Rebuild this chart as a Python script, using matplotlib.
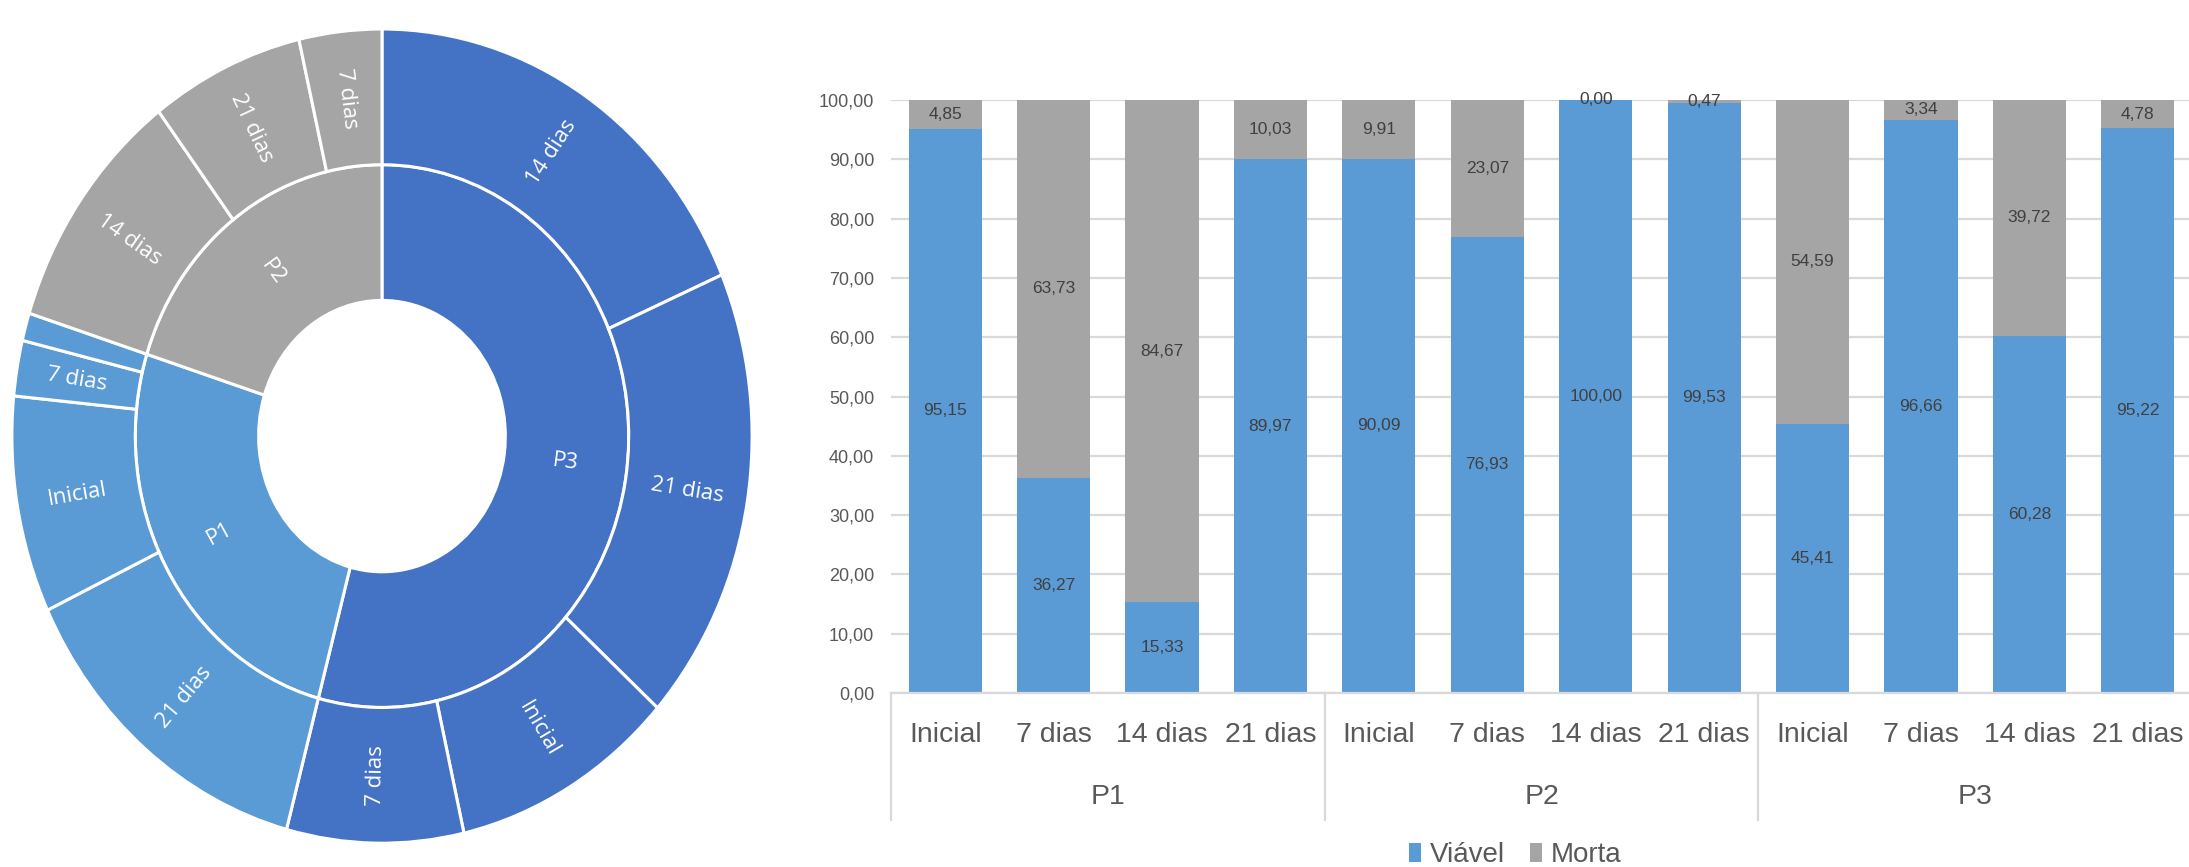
import matplotlib.pyplot as plt
import numpy as np
from matplotlib.patches import Patch
import matplotlib.transforms as mtransforms

plt.rcParams['font.family'] = ['Liberation Sans', 'DejaVu Sans']

# --- Dados do grafico de barras (% de celulas) ---
tempos = ['Inicial', '7 dias', '14 dias', '21 dias']
grupos = ['P1', 'P2', 'P3']
viavel = [95.15, 36.27, 15.33, 89.97, 90.09, 76.93, 100.00, 99.53, 45.41, 96.66, 60.28, 95.22]
morta = [4.85, 63.73, 84.67, 10.03, 9.91, 23.07, 0.00, 0.47, 54.59, 3.34, 39.72, 4.78]

# --- Dados do sunburst (ordem do Excel: horario a partir do topo) ---
sb_grupos = ['P3', 'P1', 'P2']
sb_sub_labels = ['14 dias', '21 dias', 'Inicial', '7 dias',
                 '21 dias', 'Inicial', '7 dias', '14 dias',
                 '14 dias', '21 dias', '7 dias']
sb_sub_valores = [18.5, 18.1, 9.8, 7.7,
                  13.8, 8.6, 2.2, 1.1,
                  9.8, 6.7, 3.6]
sb_sub_grupo = [0, 0, 0, 0, 1, 1, 1, 1, 2, 2, 2]

AZUL = '#5B9BD5'
CINZA = '#A5A5A5'
AZUL_ESCURO = '#4472C4'
cores_grupo = [AZUL_ESCURO, AZUL, CINZA]
COR_TXT = '#595959'

W, H = 2189, 867
fig = plt.figure(figsize=(W / 100, H / 100), dpi=100)

# ---------------- Sunburst ----------------
ax_sb = fig.add_axes([4.5 / W, 0.004, 755 / W, 0.986])
valores_grupo = [sum(v for v, g in zip(sb_sub_valores, sb_sub_grupo) if g == i)
                 for i in range(len(sb_grupos))]
cores_sub = [cores_grupo[g] for g in sb_sub_grupo]
props = {'edgecolor': 'white', 'linewidth': 2.2}

w_in, _ = ax_sb.pie(valores_grupo, radius=2 / 3, startangle=90, counterclock=False,
                    colors=cores_grupo, wedgeprops={'width': 1 / 3, **props})
w_out, _ = ax_sb.pie(sb_sub_valores, radius=1.0, startangle=90, counterclock=False,
                     colors=cores_sub, wedgeprops={'width': 1 / 3, **props})
ax_sb.set_aspect('auto')
ax_sb.set_xlim(-1.02, 1.02)
ax_sb.set_ylim(-1.05, 1.05)
ax_sb.axis('off')


def rotulo(wedge, texto, r):
    # rotulo radial, virado para ficar legivel (como no Excel)
    if abs(wedge.theta2 - wedge.theta1) < 6:
        return
    meio = (wedge.theta1 + wedge.theta2) / 2.0
    a = np.deg2rad(meio)
    rot = (meio + 180) % 360 - 180
    if np.cos(np.deg2rad(rot)) < 0:
        rot += 180
    ax_sb.text(r * np.cos(a), r * np.sin(a), texto, rotation=rot, rotation_mode='anchor',
               ha='center', va='center', color='white', fontsize=16,
               family=['Open Sans', 'DejaVu Sans'])


for wdg, lab in zip(w_in, sb_grupos):
    rotulo(wdg, lab, 0.5)
for wdg, lab in zip(w_out, sb_sub_labels):
    rotulo(wdg, lab, 0.835)

# ---------------- Barras empilhadas ----------------
ax = fig.add_axes([891 / W, 1 - 693 / H, 1301 / W, 593 / H])
x = np.arange(len(viavel))
larg = 0.675
ax.bar(x, viavel, larg, color=AZUL, zorder=2)
ax.bar(x, morta, larg, bottom=viavel, color=CINZA, zorder=2)

fmt = lambda v: f"{v:.2f}".replace('.', ',')
for xi, v, m in zip(x, viavel, morta):
    ax.text(xi, v / 2, fmt(v), ha='center', va='center', fontsize=12.5, color='#404040', zorder=3)
    ax.text(xi, v + m / 2, fmt(m), ha='center', va='center', fontsize=12.5, color='#404040', zorder=3)

ax.set_xlim(-0.5, len(viavel) - 0.5)
ax.set_ylim(0, 100)
ax.set_yticks(range(0, 101, 10))
ax.set_yticklabels([fmt(t) for t in range(0, 101, 10)], fontsize=13, color=COR_TXT)
ax.tick_params(axis='y', length=0, pad=12)
ax.set_xticks([])
ax.yaxis.grid(True, color='#D9D9D9', linewidth=1.6, zorder=0)
for s in ['left', 'right', 'top']:
    ax.spines[s].set_visible(False)
ax.spines['bottom'].set_color('#D9D9D9')
ax.spines['bottom'].set_linewidth(1.6)

# eixo de categorias em dois niveis
trans = mtransforms.blended_transform_factory(ax.transData, ax.transAxes)
h_ax = 593.0
for i, xi in enumerate(x):
    ax.text(xi, -42 / h_ax, tempos[i % len(tempos)], transform=trans, ha='center', va='center',
            fontsize=20.5, color=COR_TXT)
for g, nome in enumerate(grupos):
    centro = g * len(tempos) + (len(tempos) - 1) / 2
    ax.text(centro, -104 / h_ax, nome, transform=trans, ha='center', va='center',
            fontsize=20.5, color=COR_TXT)
    sep = g * len(tempos) - 0.5
    ax.plot([sep, sep], [0, -127 / h_ax], transform=trans, color='#D9D9D9', lw=1.6, clip_on=False)

handles = [Patch(facecolor=AZUL, label='Viável'), Patch(facecolor=CINZA, label='Morta')]
fig.legend(handles=handles, loc='center', bbox_to_anchor=(1515 / W, 1 - 855 / H), ncol=2,
           frameon=False, fontsize=20, handlelength=0.45, handleheight=0.7,
           handletextpad=0.3, columnspacing=0.9, labelcolor=COR_TXT)

fig.savefig('out.png', dpi=100)
